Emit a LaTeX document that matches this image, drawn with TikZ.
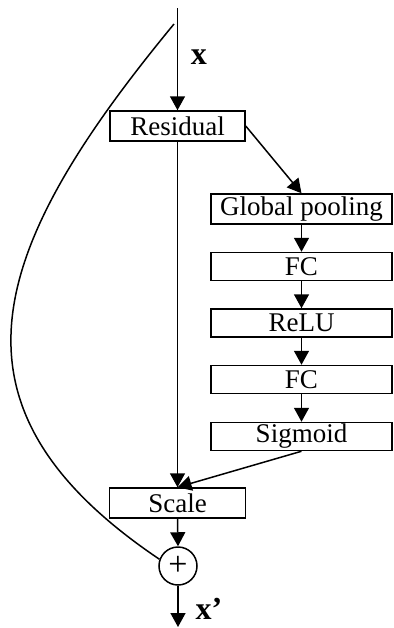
\documentclass[tikz,border=0pt]{standalone}
\usepackage{fontspec}
\setmainfont{Liberation Serif}
\usetikzlibrary{arrows.meta}
\begin{document}
\begin{tikzpicture}[x=0.5pt,y=-0.5pt,
  line width=0.75pt,
  font=\fontsize{13.5}{15}\selectfont,
  blk/.style={draw, inner sep=0pt, minimum height=14pt},
  arr/.style={-{Triangle[length=7pt,width=7.5pt]}},
  lbl/.style={inner sep=0pt, font=\fontsize{16}{18}\selectfont\bfseries}]
\useasboundingbox (0,0) rectangle (393,628);
\coordinate (top) at (177.5,8);
\coordinate (cstart) at (174,24);
\coordinate (bot) at (178,627);
\node[blk, minimum width=67.5pt, minimum height=15pt] (res) at (177.5,126) {Residual};
\node[blk, minimum width=90.5pt, minimum height=15pt] (gp) at (301.5,209) {Global pooling};
\node[blk, minimum width=90.5pt] (fc1) at (301.5,266.5) {FC};
\node[blk, minimum width=90.5pt] (relu) at (301.5,323) {ReLU};
\node[blk, minimum width=90.5pt] (fc2) at (301.5,379.5) {FC};
\node[blk, minimum width=90.5pt] (sig) at (301.5,436.5) {Sigmoid};
\node[blk, minimum width=68pt, minimum height=15pt] (scale) at (177.5,503) {Scale};
\node[draw, circle, inner sep=0pt, minimum size=19pt, font=\fontsize{17}{18}\selectfont] (plus) at (178,566) {+};
\node[lbl] (xin) at (199,57) {x};
\node[lbl] (xout) at (209,609) {x’};
\draw[arr] (top) -- (res.north);
\draw[arr] (res.south) -- (scale.north);
\draw[arr] (res.east) -- (gp.north);
\draw[arr] (gp.south) -- (fc1.north);
\draw[arr] (fc1.south) -- (relu.north);
\draw[arr] (relu.south) -- (fc2.north);
\draw[arr] (fc2.south) -- (sig.north);
\draw[arr] (sig.south) -- (scale.north);
\draw[arr] (scale.south) -- (plus.north);
\draw[arr] (plus.south) -- (bot);
\draw (cstart) .. controls (-13.5,251.2) and (-65.9,407.5) .. (plus.160);
\end{tikzpicture}
\end{document}
